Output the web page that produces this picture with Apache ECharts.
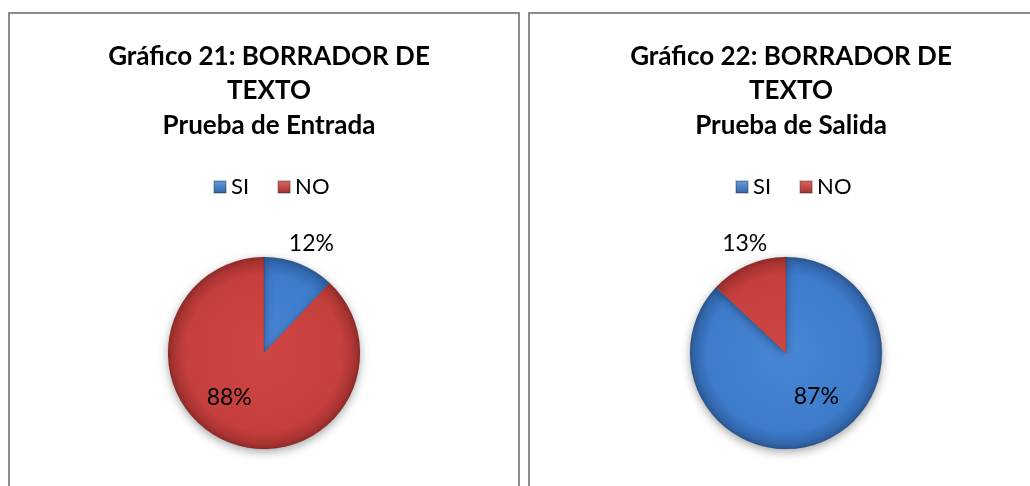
<!DOCTYPE html>
<html>
<head>
<meta charset="utf-8">
<script src="https://cdn.jsdelivr.net/npm/echarts@6/dist/echarts.min.js"></script>
<style>
  html, body { margin: 0; padding: 0; background: #fff; }
  #main { width: 1030px; height: 486px; }
</style>
</head>
<body>
<div id="main"></div>
<script>
var myChart = echarts.init(document.getElementById('main'));

var categories = ['SI', 'NO'];
var entradaValues = [12, 88];
var salidaValues = [87, 13];
var titles = [
    'Gráfico 21: BORRADOR DE\nTEXTO\nPrueba de Entrada',
    'Gráfico 22: BORRADOR DE\nTEXTO\nPrueba de Salida'
];

var centers = [264, 786];
var cy = 353, R = 96;

// degradado radial global, tipo excel
function fill(i, cx) {
    var stops = i === 0 ? [
        { offset: 0, color: '#4886d6' },
        { offset: 0.82, color: '#3d7bcb' },
        { offset: 0.94, color: '#3368ae' },
        { offset: 1, color: '#2a5690' }
    ] : [
        { offset: 0, color: '#cf4744' },
        { offset: 0.82, color: '#c53f3c' },
        { offset: 0.94, color: '#aa3432' },
        { offset: 1, color: '#8e2a28' }
    ];
    return new echarts.graphic.RadialGradient(cx, cy, R, stops, true);
}
function legendFill(i) {
    var c = i === 0 ? ['#6aa0e0', '#2f64a8'] : ['#e26a66', '#9e2f2c'];
    return new echarts.graphic.LinearGradient(0, 0, 0, 1, [
        { offset: 0, color: c[0] }, { offset: 1, color: c[1] }
    ]);
}

function makeData(values, outsideIdx, cx) {
    return categories.map(function (name, i) {
        var item = {
            name: name,
            value: values[i],
            itemStyle: { color: fill(i, cx) }
        };
        if (i === outsideIdx) {
            item.label = { position: 'outside' };
            item.labelLine = { show: false, length: 4, length2: 0 };
        } else {
            item.label = { position: 'inside' };
        }
        return item;
    });
}

// ajuste fino de etiquetas
var labelShift = [
    [[-17, -16], [-16, -3]],
    [[10, -3], [26, -18]]
];

function pieSeries(k, values, outsideIdx) {
    return {
        type: 'pie',
        center: [centers[k], cy],
        radius: R,
        startAngle: 90,
        clockwise: true,
        data: makeData(values, outsideIdx, centers[k]),
        label: {
            formatter: '{c}%',
            fontFamily: 'Lato',
            fontSize: 23,
            color: '#000'
        },
        labelLayout: function (p) {
            var s = labelShift[k][p.dataIndex];
            return { dx: s[0], dy: s[1] };
        },
        itemStyle: {
            borderColor: 'rgba(0,0,0,0.2)',
            borderWidth: 0.5,
            shadowBlur: 10,
            shadowColor: 'rgba(0,0,0,0.35)',
            shadowOffsetY: 3
        }
    };
}

option = {
    color: ['#3d7bcb', '#c53f3c'],
    animation: false,
    title: titles.map(function (t, k) {
        return {
            text: t,
            left: centers[k],
            top: 34,
            textAlign: 'center',
            textStyle: {
                fontFamily: 'Lato',
                fontSize: 26,
                fontWeight: 'bold',
                color: '#000',
                lineHeight: 34.5
            }
        };
    }),
    legend: centers.map(function (c) {
        return {
            data: categories.map(function (n, i) {
                return { name: n, itemStyle: { color: legendFill(i) } };
            }),
            left: c - 56,
            top: 171,
            itemWidth: 12,
            itemHeight: 12,
            itemGap: 28,
            icon: 'rect',
            selectedMode: false,
            textStyle: { fontFamily: 'Lato', fontSize: 22, color: '#000' }
        };
    }),
    graphic: [{
        type: 'rect',
        shape: { x: 9, y: 13, width: 510, height: 490 },
        style: { fill: 'none', stroke: '#8c8c8c', lineWidth: 2 }
    }, {
        type: 'rect',
        shape: { x: 529, y: 13, width: 510, height: 490 },
        style: { fill: 'none', stroke: '#8c8c8c', lineWidth: 2 }
    }],
    series: [
        pieSeries(0, entradaValues, 0),
        pieSeries(1, salidaValues, 1)
    ]
};

myChart.setOption(option);
</script>
</body>
</html>
